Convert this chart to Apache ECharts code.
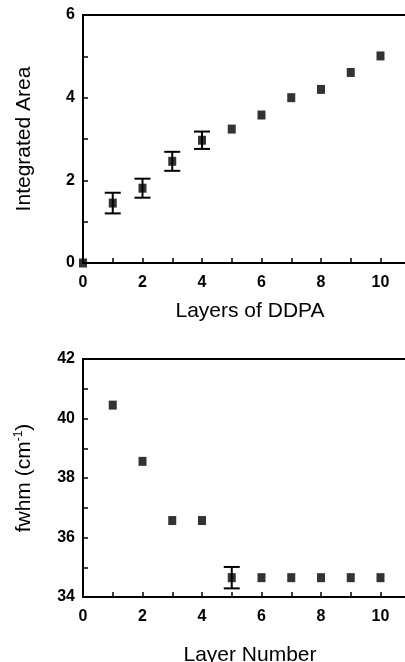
<!DOCTYPE html>
<html>
<head>
<meta charset="utf-8">
<script src="https://cdn.jsdelivr.net/npm/echarts@6/dist/echarts.min.js"></script>
<style>
html,body{margin:0;padding:0;background:#fff;}
#chart{width:405px;height:662px;}
</style>
</head>
<body>
<div id="chart"></div>
<script>
// ---- data ----
const layersTop = [0, 1, 2, 3, 4, 5, 6, 7, 8, 9, 10];
const areaValues = [0, 1.45, 1.81, 2.46, 2.97, 3.24, 3.58, 4.0, 4.2, 4.61, 5.01];
const areaErrors = [null, 0.25, 0.23, 0.23, 0.21, null, null, null, null, null, null];

const layersBottom = [1, 2, 3, 4, 5, 6, 7, 8, 9, 10];
const fwhmValues = [40.45, 38.56, 36.57, 36.57, 34.65, 34.65, 34.65, 34.65, 34.65, 34.65];
const fwhmErrors = [null, null, null, null, 0.36, null, null, null, null, null];

const xTicks = [0, 2, 4, 6, 8, 10];
const topYTicks = [0, 2, 4, 6];
const bottomYTicks = [34, 36, 38, 40, 42];

// ---- build ----
const titleFont = '"Liberation Sans", Arial, sans-serif';
const tickFont = '"Liberation Sans", Arial, sans-serif';

function pts(xs, ys) { return xs.map((x, i) => [x, ys[i]]); }
function errs(xs, ys, es) {
  const out = [];
  xs.forEach((x, i) => { if (es[i] != null) out.push([x, ys[i] - es[i], ys[i] + es[i]]); });
  return out;
}
function errRender(params, api) {
  const x = api.value(0);
  const lo = api.coord([x, api.value(1)]);
  const hi = api.coord([x, api.value(2)]);
  const hw = 8;
  const st = { stroke: '#000', lineWidth: 2 };
  return {
    type: 'group',
    children: [
      { type: 'line', shape: { x1: lo[0], y1: lo[1], x2: hi[0], y2: hi[1] }, style: st },
      { type: 'line', shape: { x1: lo[0] - hw, y1: lo[1], x2: lo[0] + hw, y2: lo[1] }, style: st },
      { type: 'line', shape: { x1: hi[0] - hw, y1: hi[1], x2: hi[0] + hw, y2: hi[1] }, style: st }
    ]
  };
}

const axisLine = { show: true, lineStyle: { color: '#000', width: 2 } };
const axisTick = { show: true, inside: true, length: 5, lineStyle: { color: '#000', width: 1.5 } };
const minorTick = { show: true, splitNumber: 2, length: 5, lineStyle: { color: '#000', width: 1.5 } };
const tickLabel = { color: '#000', fontFamily: tickFont, fontWeight: 'bold', fontSize: 16 };

function xAxis(idx, name, gap) {
  return {
    gridIndex: idx, type: 'value', min: 0, max: 12, interval: 2,
    name: name, nameLocation: 'middle', nameGap: gap,
    nameTextStyle: { color: '#000', fontFamily: titleFont, fontSize: 21, padding: [0, 23, 0, 0] },
    axisLine: axisLine, axisTick: axisTick, minorTick: minorTick,
    splitLine: { show: false },
    axisLabel: Object.assign({ margin: 12 }, tickLabel)
  };
}
function yAxis(idx, name, min, max, gap) {
  return {
    gridIndex: idx, type: 'value', min: min, max: max, interval: 2,
    name: name, nameLocation: 'middle', nameGap: gap, nameRotate: 90,
    nameTextStyle: {
      color: '#000', fontFamily: titleFont, fontSize: 21,
      rich: { sup: { fontFamily: titleFont, fontSize: 12, color: '#000', padding: [0, 0, 10, 0] } }
    },
    axisLine: axisLine, axisTick: axisTick, minorTick: minorTick,
    splitLine: { show: false },
    axisLabel: Object.assign({ margin: 8 }, tickLabel)
  };
}

const chart = echarts.init(document.getElementById('chart'), null, { renderer: 'canvas' });
chart.setOption({
  backgroundColor: '#fff',
  animation: false,
  grid: [
    { left: 83, top: 15, width: 357, height: 248, show: true, borderColor: '#000', borderWidth: 2,
      containLabel: false, outerBoundsMode: 'none' },
    { left: 83, top: 359, width: 357, height: 238, show: true, borderColor: '#000', borderWidth: 2,
      containLabel: false, outerBoundsMode: 'none' }
  ],
  xAxis: [xAxis(0, 'Layers of DDPA', 38), xAxis(1, 'Layer Number', 48)],
  yAxis: [yAxis(0, 'Integrated Area', 0, 6, 48), yAxis(1, 'fwhm (cm{sup|-1})', 34, 42, 48)],
  series: [
    {
      type: 'scatter', xAxisIndex: 0, yAxisIndex: 0, data: pts(layersTop, areaValues),
      symbol: 'rect', symbolSize: [8, 9], itemStyle: { color: '#000' }, clip: false
    },
    {
      type: 'custom', xAxisIndex: 0, yAxisIndex: 0, data: errs(layersTop, areaValues, areaErrors),
      renderItem: errRender, encode: { x: 0, y: [1, 2] }, clip: false
    },
    {
      type: 'scatter', xAxisIndex: 1, yAxisIndex: 1, data: pts(layersBottom, fwhmValues),
      symbol: 'rect', symbolSize: [8, 9], itemStyle: { color: '#000' }, clip: false
    },
    {
      type: 'custom', xAxisIndex: 1, yAxisIndex: 1, data: errs(layersBottom, fwhmValues, fwhmErrors),
      renderItem: errRender, encode: { x: 0, y: [1, 2] }, clip: false
    }
  ]
});
</script>
</body>
</html>
